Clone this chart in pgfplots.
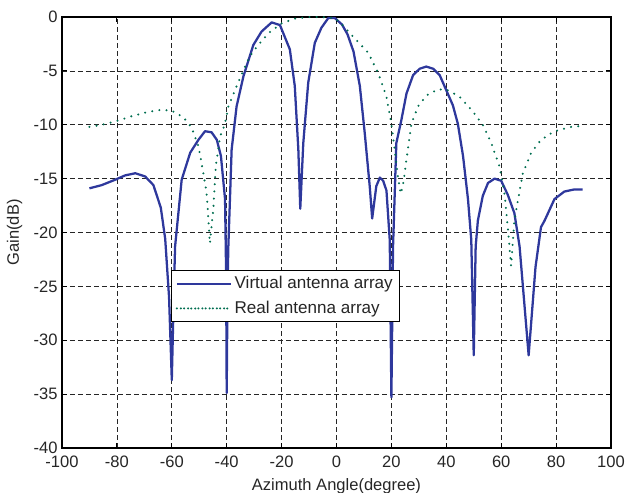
\documentclass[border=0pt]{standalone}
\usepackage{pgfplots}
\pgfplotsset{compat=1.18}
\usepackage{fontspec}
\setmainfont{Liberation Sans}
\definecolor{virtBlue}{RGB}{46,56,156}
\definecolor{realGreen}{RGB}{0,110,80}
\begin{document}
\fontsize{12.4}{14}\selectfont
\begin{tikzpicture}
\begin{axis}[
    name=ax,
    scale only axis,
    width=411.75pt, height=323.25pt,
    xmin=-100, xmax=100, ymin=-40, ymax=0,
    xtick={-100,-80,...,100},
    ytick={-40,-35,...,0},
    xticklabels={-100,-80,-60,-40,-20,0,20,40,60,80,100},
    yticklabels={-40,-35,-30,-25,-20,-15,-10,-5,0},
    tick label style={font=\fontsize{12.4}{14}\selectfont, color=black!85},
    xticklabel style={yshift=-1.5pt},
    yticklabel style={xshift=1pt},
    label style={font=\fontsize{12.4}{14}\selectfont, color=black!85},
    xlabel={Azimuth Angle(degree)},
    ylabel={Gain(dB)},
    xlabel style={yshift=0.5pt},
    ylabel style={yshift=0pt},
    tick align=inside, tick pos=both,
    major tick length=4pt,
    tick style={black, line width=0.6pt},
    axis line style={black, line width=0.8pt},
    grid=major,
    major grid style={black!85, dash pattern=on 3.6pt off 2.4pt, line width=0.55pt},
    legend style={
        at={(axis cs:-60.2,-23.5)}, anchor=north west,
        draw=black, line width=0.7pt, fill=white,
        font=\fontsize{12.8}{15}\selectfont,
        text=black!85,
        inner xsep=3pt, inner ysep=2.3pt,
        row sep=3.3pt,
        cells={anchor=west},
    },
    legend image code/.code={
        \path (-3pt,0pt) -- (37.5pt,0pt);
        \draw[#1] (0pt,0pt) -- (37.5pt,0pt);
    },
]
\addplot[virtBlue, line width=1.7pt, line join=round] coordinates {
(-90,-15.9) (-85.5,-15.6) (-80.6,-15.1) (-77,-14.7) (-73.3,-14.5) (-69.7,-14.8)
(-66.7,-15.6) (-64,-17.7) (-62.4,-20.6) (-61,-26) (-60,-33.7) (-59.3,-26)
(-58.8,-21.3) (-56.4,-15.1) (-53.3,-12.6) (-50.3,-11.4) (-47.9,-10.6) (-45.5,-10.7)
(-43.6,-11.4) (-42.1,-12.9) (-40.6,-16.9) (-40.2,-24) (-40,-34.9) (-39.7,-25)
(-39.4,-21.3) (-38.2,-12.3) (-36.4,-8.3) (-33.9,-5.5) (-30.3,-2.6) (-27.3,-1.35)
(-23.6,-0.5) (-20.6,-0.75) (-17,-3.0) (-15.2,-6.4) (-13.9,-12.3) (-13.2,-17.8)
(-12.1,-11.7) (-10.3,-6.1) (-7.9,-2.4) (-5.5,-1.0) (-3,-0.1) (-0.6,-0.1)
(2,-0.7) (4,-1.6) (6.2,-3.2) (8.5,-6.4) (10.3,-10.8) (12.1,-15.7) (13,-18.7)
(14.5,-15.7) (15.8,-14.9) (17,-15.2) (18.2,-16.1) (19.4,-20.7) (20,-35.3)
(20.6,-21.3) (21.8,-11.7) (23.6,-9.6) (25.5,-7.1) (27.9,-5.4) (30.3,-4.8)
(32.7,-4.6) (35.2,-4.8) (37.6,-5.4) (40,-6.8) (42.4,-8.2) (44.2,-9.9)
(46.1,-12.9) (47.9,-16.9) (49.1,-20.7) (50,-31.4) (50.7,-21.3) (51.5,-18.9)
(53.3,-16.6) (55.2,-15.4) (57.6,-15) (60,-15.2) (62.4,-16.5) (64.8,-18.2)
(66.7,-21.3) (70,-31.4) (72.5,-23.2) (74.5,-19.5) (75.8,-18.9) (79.4,-16.9)
(83,-16.2) (86.7,-16) (89.7,-16)
};
\addlegendentry{Virtual antenna array}
\addplot[realGreen, line width=1.7pt, line cap=round, dash pattern=on 0pt off 5.4pt] coordinates {
(-90,-10.2) (-85.5,-10) (-80.6,-9.7) (-74.5,-9.2) (-68.5,-8.8) (-63.6,-8.6)
(-60,-8.7) (-55.8,-9.3) (-52.7,-10.3) (-50.3,-12) (-48.5,-14.5) (-47.3,-16.4)
(-46.1,-21) (-44.8,-17.6) (-44,-13.9) (-42.4,-11.1) (-40.6,-9.9) (-39.4,-8.3)
(-37,-6.8) (-34.5,-5.3) (-31.5,-3.6) (-28.5,-2.6) (-24.8,-1.5) (-20,-0.6)
(-15.2,-0.15) (-10.3,0) (-5.5,0) (-0.6,-0.1) (2,-0.7) (6.7,-2) (11.5,-3.3)
(15.2,-5.2) (18.2,-7.4) (20,-9.9) (21.2,-12.3) (22.4,-14.8) (23.4,-16.4)
(24.2,-15.7) (25.5,-13.2) (27.3,-9.9) (29.7,-8.3) (32.7,-7.3) (37,-6.7)
(40.6,-6.8) (44.8,-7.4) (49.1,-8.6) (53.3,-10) (56.4,-11.7) (59.4,-13.9)
(61.2,-16.4) (62.4,-19.5) (63.6,-23.1) (64.8,-18.9) (66.1,-17) (67.9,-14.5)
(70.9,-12.6) (74.5,-11.4) (79.4,-10.6) (85.5,-10.2) (89.7,-10.1)
};
\addlegendentry{Real antenna array}
\end{axis}
\pgfresetboundingbox
\path ([xshift=-46.5pt,yshift=-33.75pt]ax.south west) rectangle ([xshift=11.25pt,yshift=12.75pt]ax.north east);
\end{tikzpicture}
\end{document}
